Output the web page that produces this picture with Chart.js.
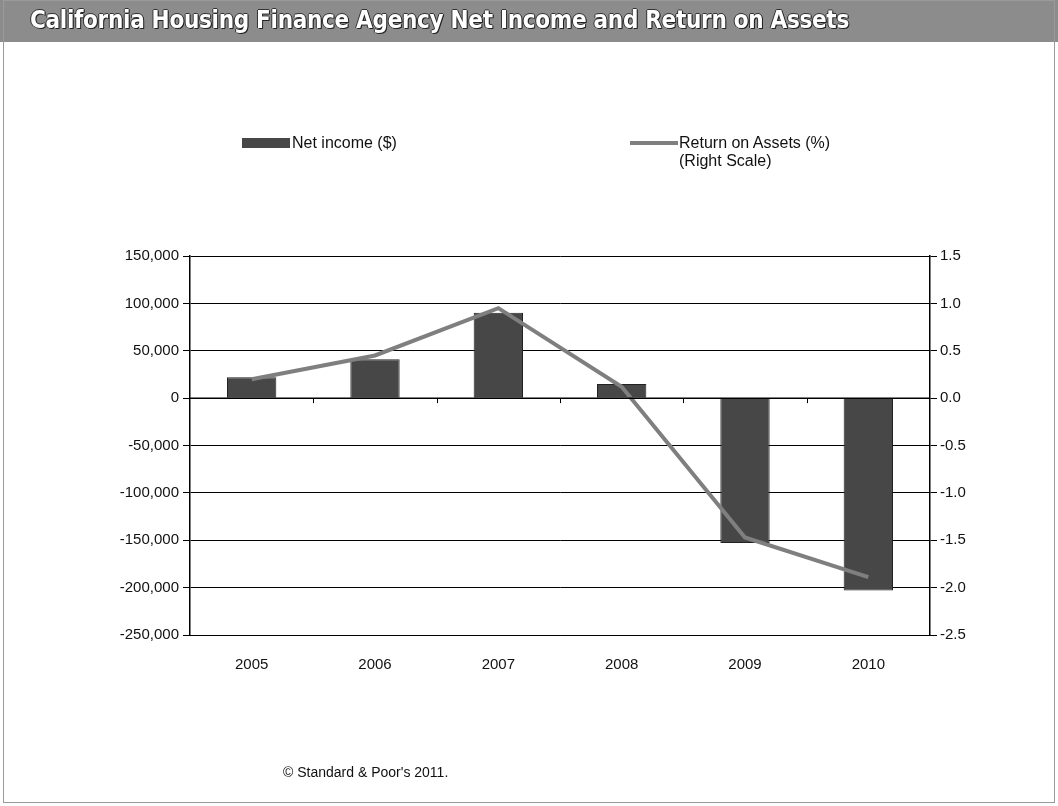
<!DOCTYPE html>
<html>
<head>
<meta charset="utf-8">
<script src="https://cdn.jsdelivr.net/npm/chart.js@4.4.1/dist/chart.umd.min.js"></script>
<style>
  html, body { margin: 0; padding: 0; background: #fff; }
  #wrap { position: relative; width: 1058px; height: 806px; overflow: hidden; font-family: "Liberation Sans", Arial, sans-serif; }
  #frame { position: absolute; left: 3px; top: 0; width: 1052px; height: 803px; border: 1px solid #9a9a9a; box-sizing: border-box; }
  #header { position: absolute; left: 0; top: 0; width: 1058px; height: 42px; background: #8c8c8c; }
  #title { position: absolute; left: 30px; top: 6px; color: #fff; font-family: "DejaVu Sans Condensed", "DejaVu Sans", sans-serif; font-weight: bold; font-size: 24px; letter-spacing: -0.3px; text-shadow: 1px 1px 0 #222, -1px 0 0 #333, 0 -1px 0 #333, 1px 0 0 #333; white-space: nowrap; }
  .leg { position: absolute; font-size: 16px; color: #111; white-space: nowrap; line-height: 18px; }
  .sw { position: absolute; }
  #foot { position: absolute; left: 283px; top: 764px; font-size: 14px; color: #111; }
  canvas#c { position: absolute; left: 0; top: 0; }
</style>
</head>
<body>
<div id="wrap">
  <canvas id="c" width="1058" height="806"></canvas>
  <div id="header"><div id="title">California Housing Finance Agency Net Income and Return on Assets</div></div>
  <div id="frame"></div>
  <div class="sw" style="left:242px; top:138px; width:48px; height:10px; background:#474747;"></div>
  <div class="leg" style="left:292px; top:134px;">Net income ($)</div>
  <div class="sw" style="left:630px; top:141px; width:48px; height:4px; background:#7f7f7f;"></div>
  <div class="leg" style="left:679px; top:134px;">Return on Assets (%)<br>(Right Scale)</div>
  <div id="foot">© Standard &amp; Poor's 2011.</div>
</div>
<script>
const categories = ['2005', '2006', '2007', '2008', '2009', '2010'];
const netIncome = [22000, 41000, 90000, 15000, -153000, -203000];
const returnOnAssets = [0.2, 0.45, 0.95, 0.12, -1.47, -1.89];
const leftTicks = [150000, 100000, 50000, 0, -50000, -100000, -150000, -200000, -250000];
const rightTicks = [1.5, 1.0, 0.5, 0.0, -0.5, -1.0, -1.5, -2.0, -2.5];

const zeroTicks = {
  id: 'zeroTicks',
  afterDatasetsDraw(chart) {
    const x = chart.scales.x, y = chart.scales.y;
    const ctx = chart.ctx;
    const y0 = y.getPixelForValue(0);
    ctx.save();
    ctx.strokeStyle = '#000';
    ctx.lineWidth = 1.5;
    ctx.beginPath();
    ctx.moveTo(x.left, y0); ctx.lineTo(x.right, y0);
    ctx.stroke();
    ctx.lineWidth = 1;
    const n = categories.length;
    for (let k = 1; k < n; k++) {
      const px = Math.round((x.getPixelForValue(k - 1) + x.getPixelForValue(k)) / 2) + 0.5;
      ctx.beginPath();
      ctx.moveTo(px, y0); ctx.lineTo(px, y0 + 5);
      ctx.stroke();
    }
    ctx.restore();
  }
};

const tickFont = { family: '"Liberation Sans", Arial, sans-serif', size: 15 };

new Chart(document.getElementById('c'), {
  data: {
    labels: categories,
    datasets: [
      { type: 'line', label: 'Return on Assets (%)', data: returnOnAssets, yAxisID: 'y1',
        borderColor: '#7f7f7f', borderWidth: 4, pointRadius: 0, tension: 0, order: 0 },
      { type: 'bar', label: 'Net income ($)', data: netIncome, yAxisID: 'y',
        backgroundColor: '#474747', borderColor: '#222', borderWidth: 1,
        categoryPercentage: 0.8, barPercentage: 0.5, order: 1 }
    ]
  },
  options: {
    responsive: false,
    animation: false,
    devicePixelRatio: 1,
    layout: { padding: { top: 256, left: 100, right: 78, bottom: 131 } },
    plugins: { legend: { display: false }, tooltip: { enabled: false } },
    scales: {
      x: {
        grid: { display: false },
        border: { display: true, color: '#000', width: 1 },
        ticks: { color: '#111', font: tickFont, padding: 13 },
        afterFit(s) { s.height = 40; }
      },
      y: {
        position: 'left',
        min: -250000, max: 150000,
        afterBuildTicks(s) { s.ticks = leftTicks.map(v => ({ value: v })); },
        grid: { color: '#000', lineWidth: 1, tickLength: 7, drawTicks: true },
        border: { display: true, color: '#000', width: 1.5 },
        ticks: { color: '#111', font: tickFont, padding: 4,
          callback: v => v.toLocaleString('en-US') },
        afterFit(s) { s.width = 90; }
      },
      y1: {
        position: 'right',
        min: -2.5, max: 1.5,
        afterBuildTicks(s) { s.ticks = rightTicks.map(v => ({ value: v })); },
        grid: { display: true, drawOnChartArea: false, color: '#000', tickLength: 7 },
        border: { display: true, color: '#000', width: 1.5 },
        ticks: { color: '#111', font: tickFont, padding: 3,
          callback: v => v.toFixed(1) },
        afterFit(s) { s.width = 50; }
      }
    }
  },
  plugins: [zeroTicks]
});
</script>
</body>
</html>
